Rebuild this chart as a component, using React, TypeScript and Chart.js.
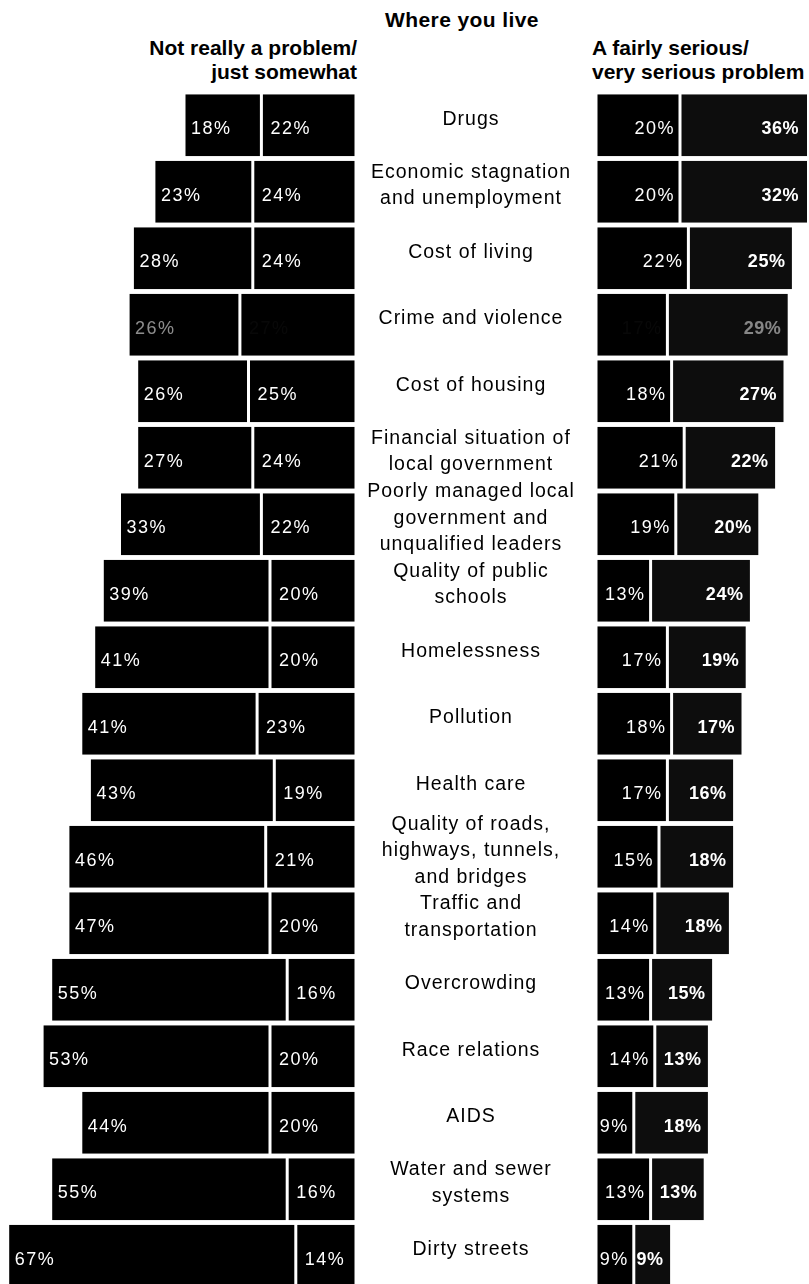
import React, { useEffect, useRef } from "react";
import { Chart, registerables } from "chart.js";

Chart.register(...registerables);

// ---------- data ----------
const categories: string[][] = [
  ["Drugs"],
  ["Economic stagnation", "and unemployment"],
  ["Cost of living"],
  ["Crime and violence"],
  ["Cost of housing"],
  ["Financial situation of", "local government"],
  ["Poorly managed local", "government and", "unqualified leaders"],
  ["Quality of public", "schools"],
  ["Homelessness"],
  ["Pollution"],
  ["Health care"],
  ["Quality of roads,", "highways, tunnels,", "and bridges"],
  ["Traffic and", "transportation"],
  ["Overcrowding"],
  ["Race relations"],
  ["AIDS"],
  ["Water and sewer", "systems"],
  ["Dirty streets"],
];

const notReallyAProblem = [18, 23, 28, 26, 26, 27, 33, 39, 41, 41, 43, 46, 47, 55, 53, 44, 55, 67];
const justSomewhat = [22, 24, 24, 27, 25, 24, 22, 20, 20, 23, 19, 21, 20, 16, 20, 20, 16, 14];
const fairlySerious = [20, 20, 22, 17, 18, 21, 19, 13, 17, 18, 17, 15, 14, 13, 14, 9, 13, 9];
const verySerious = [36, 32, 25, 29, 27, 22, 20, 24, 19, 17, 16, 18, 18, 15, 13, 18, 13, 9];

const title = "Where you live";
const leftHeader = ["Not really a problem/", "just somewhat"];
const rightHeader = ["A fairly serious/", "very serious problem"];

// ---------- style ----------
const FONT = '"Liberation Sans", Arial, Helvetica, sans-serif';
const PX_PER_PCT_LEFT = 4.3;
const PX_PER_PCT_RIGHT = 4.2;
const CHART_TOP = 92;
const CHART_H = 1197;
const LEFT_W = 356;
const RIGHT_W = 453;
const RIGHT_PAD_LEFT = 240;
const RIGHT_PAD_RIGHT = 2;
// the printed figures of this row are nearly illegible in the source (black on black)
const FADED_ROW = 3;

function labelColor(key: string, i: number) {
  if (i !== FADED_ROW) return "#ffffff";
  if (key === "notReally") return "rgba(255,255,255,0.55)";
  if (key === "very") return "rgba(255,255,255,0.5)";
  return "rgba(255,255,255,0.03)";
}

const barCommon = {
  borderColor: "#ffffff",
  borderWidth: { left: 1.5, right: 1.5, top: 0, bottom: 0 },
  borderSkipped: false as const,
  barPercentage: 0.935,
  categoryPercentage: 1,
  inflateAmount: 0,
};

const leftLabelPlugin = {
  id: "leftLabels",
  afterDatasetsDraw(chart: any) {
    const ctx = chart.ctx as CanvasRenderingContext2D;
    ctx.save();
    ctx.font = `18px ${FONT}`;
    (ctx as any).letterSpacing = "1.5px";
    ctx.textBaseline = "middle";
    ctx.textAlign = "left";
    chart.data.datasets.forEach((ds: any, di: number) => {
      const meta = chart.getDatasetMeta(di);
      meta.data.forEach((el: any, i: number) => {
        const { x, base, y } = el.getProps(["x", "base", "y"], true);
        const left = Math.min(x, base);
        ctx.fillStyle = labelColor(ds.key, i);
        ctx.fillText(`${ds.data[i]}%`, left + (ds.key === "somewhat" ? 9 : 7), y + 4);
      });
    });
    ctx.restore();
  },
};

const rightLabelPlugin = {
  id: "rightLabels",
  afterDatasetsDraw(chart: any) {
    const ctx = chart.ctx as CanvasRenderingContext2D;
    const area = chart.chartArea;
    ctx.save();
    ctx.textBaseline = "middle";
    // percentages
    chart.data.datasets.forEach((ds: any, di: number) => {
      const meta = chart.getDatasetMeta(di);
      meta.data.forEach((el: any, i: number) => {
        const { x, base, y } = el.getProps(["x", "base", "y"], true);
        const right = Math.min(Math.max(x, base), area.right);
        const outer = ds.key === "very";
        ctx.font = `${outer ? "bold " : ""}18px ${FONT}`;
        (ctx as any).letterSpacing = outer ? "0.5px" : "1.5px";
        ctx.textAlign = "right";
        ctx.fillStyle = labelColor(ds.key, i);
        ctx.fillText(`${ds.data[i]}%`, right - (outer ? 8 : 5), y + 4);
      });
    });
    // category names, centred in the gap left of the chart area
    const yScale = chart.scales.y;
    const cx = area.left / 2 - 5;
    ctx.font = `19.5px ${FONT}`;
    (ctx as any).letterSpacing = "1px";
    ctx.textAlign = "center";
    ctx.fillStyle = "#000000";
    const lineH = 26.5;
    (chart.data.labels as string[][]).forEach((lines, i) => {
      const cy = yScale.getPixelForValue(i) - 6;
      const start = cy - ((lines.length - 1) * lineH) / 2;
      lines.forEach((ln, k) => ctx.fillText(ln, cx, start + k * lineH));
    });
    ctx.restore();
  },
};

export default function App() {
  const leftRef = useRef<HTMLCanvasElement | null>(null);
  const rightRef = useRef<HTMLCanvasElement | null>(null);

  useEffect(() => {
    document.body.style.margin = "0";
    if (!leftRef.current || !rightRef.current) return;

    const left = new Chart(leftRef.current, {
      type: "bar",
      data: {
        labels: categories as any,
        datasets: [
          { key: "somewhat", label: "Just somewhat", data: justSomewhat, backgroundColor: "#000000", ...barCommon } as any,
          { key: "notReally", label: "Not really a problem", data: notReallyAProblem, backgroundColor: "#000000", ...barCommon } as any,
        ],
      },
      options: {
        indexAxis: "y",
        responsive: false,
        animation: false,
        devicePixelRatio: 1,
        layout: { padding: 0 },
        plugins: { legend: { display: false }, tooltip: { enabled: false }, title: { display: false } },
        scales: {
          x: { stacked: true, reverse: true, min: 0, max: LEFT_W / PX_PER_PCT_LEFT, display: false },
          y: { stacked: true, display: false },
        },
      },
      plugins: [leftLabelPlugin],
    });

    const right = new Chart(rightRef.current, {
      type: "bar",
      data: {
        labels: categories as any,
        datasets: [
          { key: "fairly", label: "A fairly serious problem", data: fairlySerious, backgroundColor: "#000000", ...barCommon } as any,
          { key: "very", label: "A very serious problem", data: verySerious, backgroundColor: "#0d0d0d", ...barCommon } as any,
        ],
      },
      options: {
        indexAxis: "y",
        responsive: false,
        animation: false,
        devicePixelRatio: 1,
        layout: { padding: { left: RIGHT_PAD_LEFT, right: RIGHT_PAD_RIGHT, top: 0, bottom: 0 } },
        plugins: { legend: { display: false }, tooltip: { enabled: false }, title: { display: false } },
        scales: {
          x: {
            stacked: true,
            min: 0,
            max: (RIGHT_W - RIGHT_PAD_LEFT - RIGHT_PAD_RIGHT) / PX_PER_PCT_RIGHT,
            display: false,
          },
          y: { stacked: true, display: false },
        },
      },
      plugins: [rightLabelPlugin],
    });

    return () => {
      left.destroy();
      right.destroy();
    };
  }, []);

  const headFont: React.CSSProperties = {
    position: "absolute",
    fontFamily: FONT,
    fontWeight: "bold",
    fontSize: 21,
    lineHeight: "24px",
    letterSpacing: "0px",
    color: "#000",
    whiteSpace: "nowrap",
    margin: 0,
  };

  return (
    <div
      style={{
        position: "fixed",
        left: 0,
        top: 0,
        width: 809,
        height: 1284,
        overflow: "hidden",
        background: "#ffffff",
      }}
    >
      <div style={{ ...headFont, left: 362, top: 8, width: 200, textAlign: "center", letterSpacing: "0.4px" }}>{title}</div>
      <div style={{ ...headFont, left: 0, top: 36, width: 357, textAlign: "right" }}>
        {leftHeader.map((t) => (
          <div key={t}>{t}</div>
        ))}
      </div>
      <div style={{ ...headFont, left: 592, top: 36, textAlign: "left" }}>
        {rightHeader.map((t) => (
          <div key={t}>{t}</div>
        ))}
      </div>
      <canvas
        ref={leftRef}
        width={LEFT_W}
        height={CHART_H}
        style={{ position: "absolute", left: 0, top: CHART_TOP, width: LEFT_W, height: CHART_H }}
      />
      <canvas
        ref={rightRef}
        width={RIGHT_W}
        height={CHART_H}
        style={{ position: "absolute", left: LEFT_W, top: CHART_TOP, width: RIGHT_W, height: CHART_H }}
      />
    </div>
  );
}
